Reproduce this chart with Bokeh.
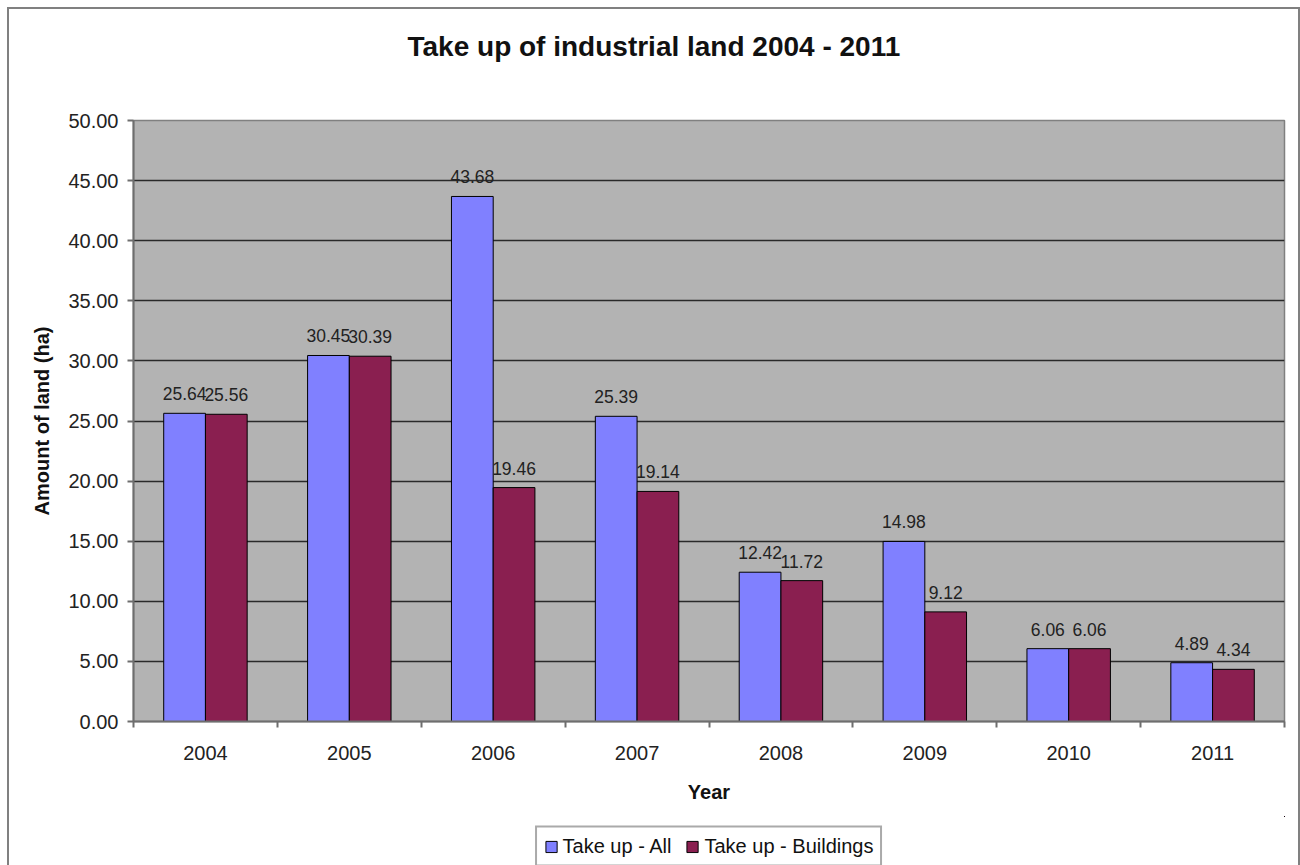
from bokeh.plotting import figure
from bokeh.layouts import column
from bokeh.models import (ColumnDataSource, Range1d, FixedTicker, NumeralTickFormatter,
                          Legend, LegendItem, LabelSet, Title)
from bokeh.core.properties import value
from bokeh.transform import dodge
from bokeh.embed import file_html
from bokeh.resources import INLINE

years = ["2004", "2005", "2006", "2007", "2008", "2009", "2010", "2011"]
take_up_all = [25.64, 30.45, 43.68, 25.39, 12.42, 14.98, 6.06, 4.89]
take_up_buildings = [25.56, 30.39, 19.46, 19.14, 11.72, 9.12, 6.06, 4.34]
series_names = ["Take up - All", "Take up - Buildings"]
y_ticks = [0, 5, 10, 15, 20, 25, 30, 35, 40, 45, 50]

FONT = "Liberation Sans"
BLUE = "#8080FF"
MAROON = "#8A1F50"

pos = [i + 0.5 for i in range(len(years))]
src = ColumnDataSource(dict(
    x=pos, year=years, all=take_up_all, bld=take_up_buildings,
    all_lbl=[f"{v:.2f}" for v in take_up_all],
    bld_lbl=[f"{v:.2f}" for v in take_up_buildings],
))

p = figure(frame_width=1151, frame_height=601, output_backend="svg", toolbar_location=None,
           title=None,
           x_range=Range1d(0, len(years)), y_range=Range1d(0, 50),
           min_border_left=124, min_border_right=14, min_border_top=111, min_border_bottom=95)

p.background_fill_color = "#B3B3B3"
p.border_fill_color = "white"
p.outline_line_color = "#808080"
p.outline_line_width = 1.5

# spacer between frame and title, then the title itself
p.add_layout(Title(text=" ", text_font_size="2px", standoff=45), "above")
p.add_layout(Title(text="Take up of industrial land 2004 - 2011", align="left", offset=274,
                   standoff=20, text_font=FONT, text_font_size="28px",
                   text_font_style="bold", text_color="#111111"), "above")

bw = 0.29
p.vbar(x=dodge("x", -bw / 2, range=p.x_range), top="all", width=bw, source=src,
       fill_color=BLUE, line_color="black", line_width=1)
p.vbar(x=dodge("x", bw / 2, range=p.x_range), top="bld", width=bw, source=src,
       fill_color=MAROON, line_color="black", line_width=1)

for col, lbl, off in (("all", "all_lbl", -bw / 2), ("bld", "bld_lbl", bw / 2)):
    ls = LabelSet(x=dodge("x", off, range=p.x_range), y=col, text=lbl, source=src,
                  text_align="center", text_baseline="alphabetic", y_offset=13,
                  text_font=value(FONT), text_font_size=value("17.5px"),
                  text_color=value("#222222"))
    p.add_layout(ls)

# axes
p.xaxis.ticker = FixedTicker(ticks=pos, minor_ticks=list(range(len(years) + 1)))
p.xaxis.major_label_overrides = {x: y for x, y in zip(pos, years)}
p.xaxis.major_tick_out = 0
p.xaxis.major_tick_in = 0
p.xaxis.minor_tick_out = 6
p.xaxis.minor_tick_in = 0
p.xaxis.minor_tick_line_color = "#6e6e6e"
p.xaxis.minor_tick_line_width = 2
p.xaxis.axis_label = "Year"
p.xaxis.major_label_standoff = 18
p.xaxis.axis_label_standoff = 18

p.yaxis.ticker = FixedTicker(ticks=y_ticks)
p.yaxis.formatter = NumeralTickFormatter(format="0.00")
p.yaxis.major_tick_out = 6
p.yaxis.major_tick_in = 0
p.yaxis.minor_tick_line_color = None
p.yaxis.major_tick_line_color = "#6e6e6e"
p.yaxis.major_tick_line_width = 2
p.yaxis.axis_label = "Amount of land (ha)"
p.yaxis.major_label_standoff = 9
p.yaxis.axis_label_standoff = 12

for ax in (p.xaxis, p.yaxis):
    ax.axis_line_color = "#6e6e6e"
    ax.axis_line_width = 2
    ax.major_label_text_font = FONT
    ax.major_label_text_font_size = "20px"
    ax.major_label_text_color = "#222222"
    ax.axis_label_text_font = FONT
    ax.axis_label_text_font_size = "20px"
    ax.axis_label_text_font_style = "bold"
    ax.axis_label_text_color = "#111111"

p.xgrid.grid_line_color = None
p.ygrid.grid_line_color = "#2a2a2a"
p.ygrid.grid_line_width = 1.5

# legend strip below the chart (its glyph renderers sit outside this strip's visible range)
lf = figure(width=1289, height=60, output_backend="svg", toolbar_location=None,
            x_range=Range1d(-100, -99), y_range=Range1d(-100, -99),
            x_axis_type=None, y_axis_type=None, min_border=0)
lf.outline_line_color = None
lf.background_fill_color = "white"
lf.border_fill_color = "white"
lf.xgrid.grid_line_color = None
lf.ygrid.grid_line_color = None
la = lf.vbar(x="x", top="all", width=bw, source=src, fill_color=BLUE, line_color="black")
lb = lf.vbar(x="x", top="bld", width=bw, source=src, fill_color=MAROON, line_color="black")
legend = Legend(items=[LegendItem(label=series_names[0], renderers=[la]),
                       LegendItem(label=series_names[1], renderers=[lb])],
                orientation="horizontal", location="center",
                label_text_font=FONT, label_text_font_size="20px", label_text_color="#111111",
                glyph_width=14, glyph_height=14, label_standoff=5, spacing=14,
                padding=7, margin=0, border_line_color="#555555", border_line_width=2,
                background_fill_color="white", background_fill_alpha=1)
lf.add_layout(legend, "center")

layout = column(p, lf, spacing=0)
layout.styles = {"margin-left": "7px", "margin-top": "7px", "border": "2px solid #808080"}

open("out.html", "w").write(file_html(layout, INLINE))
